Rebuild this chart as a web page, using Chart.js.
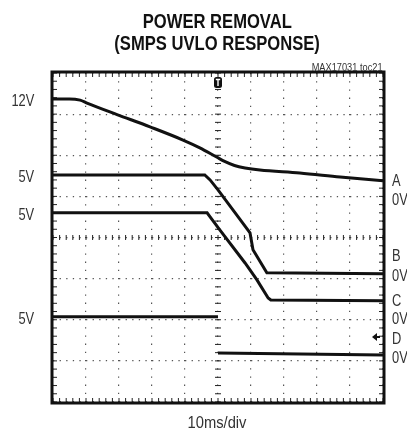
<!DOCTYPE html>
<html>
<head>
<meta charset="utf-8">
<script src="https://cdn.jsdelivr.net/npm/chart.js@4.4.0/dist/chart.umd.min.js"></script>
<style>
  body { margin: 0; background: #fff; }
  #wrap { position: relative; width: 407px; height: 433px; overflow: hidden; }
  canvas { position: absolute; left: 0; top: 0; }
  .lbl { position: absolute; line-height: 1; white-space: nowrap; color: #222;
         font-family: "Liberation Sans", Arial, sans-serif; }
  .lbl span { display: inline-block; }
</style>
</head>
<body>
<div id="wrap">
  <canvas id="scope" width="407" height="433"></canvas>
</div>
<script>
// time axis in divisions (10ms/div), levels in divisions from the bottom
const aTime  = [0, 0.5, 0.82, 1.03, 1.94, 2.94, 3.94, 4.45, 4.97, 5.2, 5.5, 5.82, 6.27, 7.48, 8.7, 10];
const aLevel = [7.37, 7.37, 7.34, 7.27, 6.99, 6.69, 6.37, 6.18, 5.95, 5.85, 5.75, 5.69, 5.64, 5.57, 5.47, 5.38];
const bTime  = [0, 4.6, 4.76, 5.0, 5.52, 5.97, 6.06, 6.48, 10];
const bLevel = [5.52, 5.52, 5.40, 5.16, 4.60, 4.11, 3.70, 3.14, 3.12];
const cTime  = [0, 4.67, 4.76, 5.06, 5.82, 6.18, 6.52, 6.6, 10];
const cLevel = [4.60, 4.60, 4.50, 4.18, 3.38, 2.97, 2.53, 2.48, 2.46];
// D steps at the trigger; the null leaves the edge undrawn like the scope trace
const dTime  = [0, 5.0, 5.0, 5.0, 10];
const dLevel = [2.07, 2.07, null, 1.19, 1.14];

const leftLabels  = ['12V', '5V', '5V', '5V'];
const leftLevels  = [7.37, 5.52, 4.60, 2.07];
const rightLabels = ['A', '0V', 'B', '0V', 'C', '0V', 'D', '0V'];
const rightYs     = [180, 199, 255, 275, 300, 318, 338, 357];

function pts(xs, ys) { return xs.map((x, i) => ({x: x, y: ys[i]})); }

const traceStyle = {borderColor: '#111', borderWidth: 3, pointRadius: 0, tension: 0, fill: false, spanGaps: false};

const scopeDecor = {
  id: 'scopeDecor',
  beforeDatasetsDraw(chart) {
    const {ctx, chartArea: a, scales: {x, y}} = chart;
    ctx.save();
    ctx.strokeStyle = '#222';
    ctx.lineWidth = 1;
    // minor ticks on frame and center cross
    const cx = x.getPixelForValue(5), cy = y.getPixelForValue(4);
    ctx.beginPath();
    for (let i = 0; i <= 50; i++) {
      const px = x.getPixelForValue(i / 5);
      ctx.moveTo(px, a.top); ctx.lineTo(px, a.top + 4);
      ctx.moveTo(px, a.bottom); ctx.lineTo(px, a.bottom - 4);
      ctx.moveTo(px, cy - 2.5); ctx.lineTo(px, cy + 2.5);
    }
    for (let i = 0; i <= 40; i++) {
      const py = y.getPixelForValue(i / 5);
      ctx.moveTo(a.left, py); ctx.lineTo(a.left + 4, py);
      ctx.moveTo(a.right, py); ctx.lineTo(a.right - 4, py);
      ctx.moveTo(cx - 3, py); ctx.lineTo(cx + 3, py);
    }
    ctx.stroke();
    // frame
    ctx.lineWidth = 3;
    ctx.strokeStyle = '#111';
    ctx.strokeRect(a.left - 1, a.top - 1, a.right - a.left + 2, a.bottom - a.top + 2);
    // trigger marker
    ctx.fillStyle = '#111';
    ctx.beginPath();
    ctx.roundRect(cx - 4, a.top + 4, 8, 11, 2.5);
    ctx.fill();
    ctx.strokeStyle = '#fff';
    ctx.lineWidth = 1.4;
    ctx.beginPath();
    ctx.moveTo(cx - 2.2, a.top + 6.5); ctx.lineTo(cx + 2.2, a.top + 6.5);
    ctx.moveTo(cx, a.top + 6.5); ctx.lineTo(cx, a.top + 13);
    ctx.stroke();
    // ground arrow at right
    ctx.fillStyle = '#111';
    ctx.beginPath();
    ctx.moveTo(a.right - 11, 337); ctx.lineTo(a.right - 6, 333); ctx.lineTo(a.right - 6, 341);
    ctx.closePath(); ctx.fill();
    ctx.fillRect(a.right - 7, 336, 4, 2);
    ctx.restore();
  }
};

const chart = new Chart('scope', {
  type: 'line',
  data: {
    datasets: [
      Object.assign({}, traceStyle, {label: 'A', data: pts(aTime, aLevel), cubicInterpolationMode: 'monotone'}),
      Object.assign({}, traceStyle, {label: 'B', data: pts(bTime, bLevel)}),
      Object.assign({}, traceStyle, {label: 'C', data: pts(cTime, cLevel)}),
      Object.assign({}, traceStyle, {label: 'D', data: pts(dTime, dLevel)})
    ]
  },
  options: {
    responsive: false,
    animation: false,
    layout: {padding: {left: 53, right: 24, top: 73, bottom: 31}},
    plugins: {legend: {display: false}, tooltip: {enabled: false}},
    scales: {
      x: {
        type: 'linear', min: 0, max: 10,
        ticks: {display: false, stepSize: 1},
        grid: {color: '#555', lineWidth: 1.2, drawTicks: false},
        border: {display: false, dash: [1.3, 6.9]}
      },
      y: {
        type: 'linear', min: 0, max: 8,
        ticks: {display: false, stepSize: 1},
        grid: {color: '#555', lineWidth: 1.2, drawTicks: false},
        border: {display: false, dash: [1.3, 5.3]}
      }
    }
  },
  plugins: [scopeDecor]
});

// text overlay
const wrap = document.getElementById('wrap');
function addText(txt, opts) {
  const d = document.createElement('div');
  d.className = 'lbl';
  d.style.fontSize = opts.size + 'px';
  if (opts.bold) d.style.fontWeight = 'bold';
  if (opts.color) d.style.color = opts.color;
  const s = document.createElement('span');
  s.textContent = txt;
  s.style.transform = 'scaleX(' + (opts.sx || 1) + ')';
  d.style.top = (opts.cy - 0.49 * opts.size) + 'px';
  if (opts.align === 'right') {
    d.style.right = (407 - opts.x) + 'px';
    s.style.transformOrigin = 'right center';
  } else if (opts.align === 'center') {
    d.style.left = (opts.x - 200) + 'px';
    d.style.width = '400px';
    d.style.textAlign = 'center';
    s.style.transformOrigin = 'center center';
  } else {
    d.style.left = opts.x + 'px';
    s.style.transformOrigin = 'left center';
  }
  d.appendChild(s);
  wrap.appendChild(d);
}

addText('POWER REMOVAL', {x: 217, cy: 20.5, size: 21, bold: true, sx: 0.79, align: 'center', color: '#111'});
addText('(SMPS UVLO RESPONSE)', {x: 217, cy: 42.5, size: 21, bold: true, sx: 0.79, align: 'center', color: '#111'});
addText('MAX17031 toc21', {x: 383, cy: 67.5, size: 10.5, sx: 0.88, align: 'right', color: '#333'});
addText('10ms/div', {x: 217, cy: 423, size: 16, sx: 0.92, align: 'center', color: '#333'});

const y = chart.scales.y;
leftLabels.forEach((t, i) => {
  addText(t, {x: 34, cy: y.getPixelForValue(leftLevels[i]) + 1, size: 16.5, sx: 0.78, align: 'right', color: '#333'});
});
rightLabels.forEach((t, i) => {
  addText(t, {x: 392, cy: rightYs[i], size: 16.5, sx: 0.78, align: 'left', color: '#333'});
});
</script>
</body>
</html>
